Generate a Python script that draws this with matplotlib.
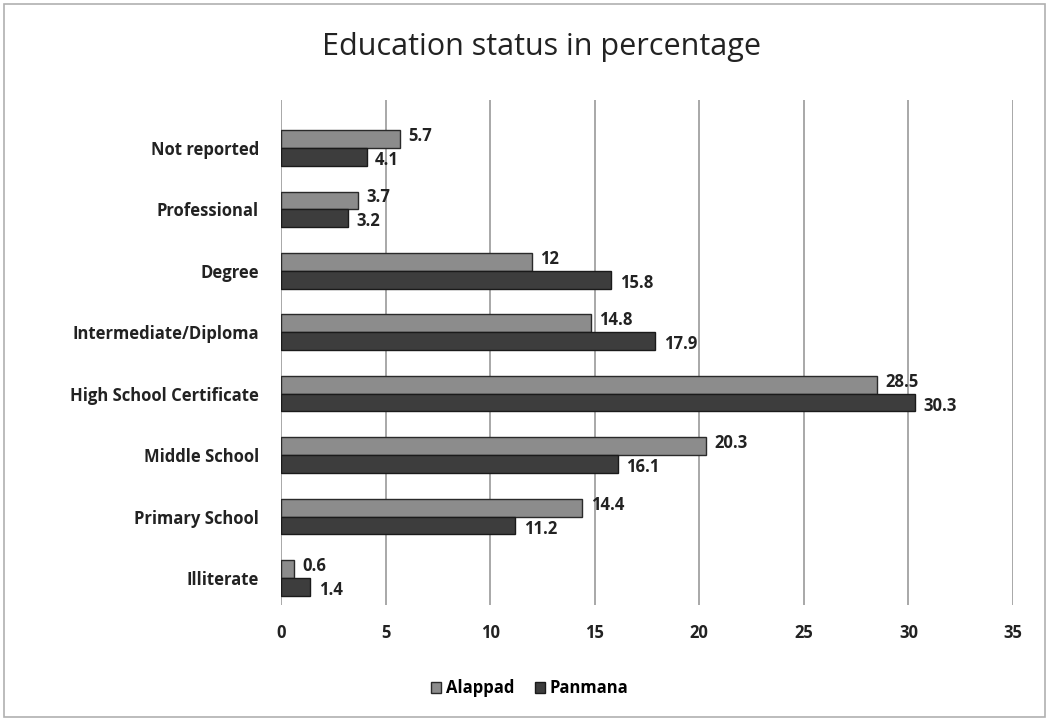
import numpy as np
import matplotlib.pyplot as plt

# data
categories = ["Illiterate", "Primary School", "Middle School", "High School Certificate",
              "Intermediate/Diploma", "Degree", "Professional", "Not reported"]
alappad = [0.6, 14.4, 20.3, 28.5, 14.8, 12, 3.7, 5.7]
panmana = [1.4, 11.2, 16.1, 30.3, 17.9, 15.8, 3.2, 4.1]
xticks = [0, 5, 10, 15, 20, 25, 30, 35]

plt.rcParams['font.family'] = ['Open Sans', 'DejaVu Sans']

fig = plt.figure(figsize=(10.49, 7.21), dpi=100)
ax = fig.add_axes([281 / 1049, 1 - 605 / 721, (1013 - 281) / 1049, 505 / 721])

y = np.arange(len(categories))
h = 0.29
ax.barh(y + h / 2, alappad, height=h, color="#8c8c8c", edgecolor="#2a2a2a", linewidth=1, label="Alappad", zorder=3)
ax.barh(y - h / 2, panmana, height=h, color="#3d3d3d", edgecolor="#1a1a1a", linewidth=1, label="Panmana", zorder=3)

for yi, a, p in zip(y, alappad, panmana):
    ax.text(a + 0.4, yi + h / 2 + 0.05, f"{a:g}", va="center", ha="left", fontsize=12, fontweight="bold", color="#222222")
    ax.text(p + 0.4, yi - h / 2 - 0.05, f"{p:g}", va="center", ha="left", fontsize=12, fontweight="bold", color="#222222")

ax.set_xlim(0, 35)
ax.set_ylim(-0.44, 7.78)
ax.set_xticks(xticks)
ax.set_xticklabels([str(t) for t in xticks], fontsize=12, fontweight="bold", color="#222222")
ax.set_yticks(y)
ax.set_yticklabels(categories, fontsize=12, fontweight="bold", color="#222222")
ax.tick_params(length=0)
ax.tick_params(axis="x", pad=14)
ax.tick_params(axis="y", pad=16)
ax.grid(axis="x", color="#9a9a9a", linewidth=1.2, zorder=0)
for s in ax.spines.values():
    s.set_visible(False)

fig.suptitle("Education status in percentage", x=0.516, y=0.955, fontsize=22, color="#222222")
ax.legend(loc="center", bbox_to_anchor=(0.34, -0.165), ncol=2, frameon=False,
          prop={"size": 12, "weight": "bold"}, handlelength=0.6, handleheight=0.6,
          columnspacing=1.2, handletextpad=0.3)

# outer frame of the scanned chart
fig.patches.append(plt.Rectangle((0.004, 0.006), 0.992, 0.988, transform=fig.transFigure,
                                 fill=False, edgecolor="#b0b0b0", linewidth=1.2))

fig.savefig("out.png", dpi=100)
